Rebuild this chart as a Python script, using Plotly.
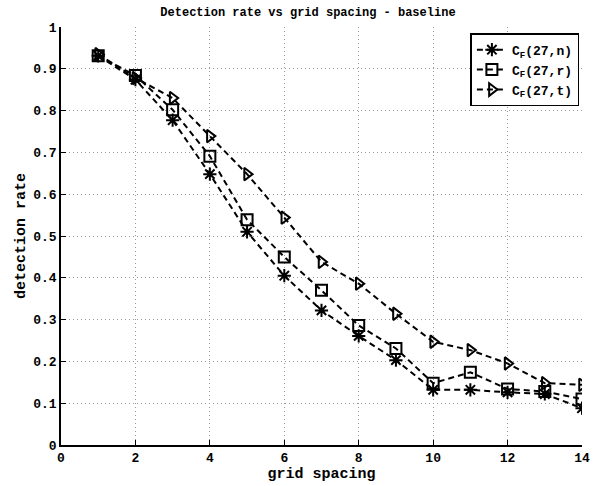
import plotly.graph_objects as go

x = list(range(1, 15))
cf_n = [0.931, 0.874, 0.777, 0.648, 0.51, 0.405, 0.322, 0.261, 0.203, 0.132, 0.132, 0.126, 0.122, 0.088]
cf_r = [0.931, 0.884, 0.802, 0.691, 0.539, 0.45, 0.37, 0.286, 0.231, 0.148, 0.174, 0.134, 0.128, 0.11]
cf_t = [0.935, 0.878, 0.830, 0.739, 0.648, 0.544, 0.438, 0.386, 0.314, 0.247, 0.227, 0.195, 0.148, 0.144]
names = ["C<sub>F</sub>(27,n)", "C<sub>F</sub>(27,r)", "C<sub>F</sub>(27,t)"]
symbols = ["asterisk-open", "square-open", "triangle-right-open"]
xticks = [0, 2, 4, 6, 8, 10, 12, 14]
yticks = [0, 0.1, 0.2, 0.3, 0.4, 0.5, 0.6, 0.7, 0.8, 0.9, 1]
yticktext = ["0", "0.1", "0.2", "0.3", "0.4", "0.5", "0.6", "0.7", "0.8", "0.9", "1"]

font = "Liberation Mono, Courier New, monospace"
fig = go.Figure()
for ys, nm, sym in zip([cf_n, cf_r, cf_t], names, symbols):
    fig.add_trace(go.Scatter(
        x=x, y=ys, name=nm, mode="lines+markers",
        line=dict(color="black", width=2, dash="6px,4px"),
        marker=dict(symbol=sym, size=11, color="black",
                    line=dict(color="black", width=2)),
    ))

axis_common = dict(
    showgrid=True, gridcolor="#999", griddash="1px,3px", gridwidth=1,
    showline=True, linecolor="black", linewidth=1.5,
    ticks="inside", ticklen=5, tickcolor="black", tickwidth=1,
    zeroline=False, mirror=False,
    tickfont=dict(family=font, size=13, color="black", weight="bold"),
)
fig.update_layout(
    width=599, height=486,
    margin=dict(l=61, r=9, t=27, b=39),
    paper_bgcolor="white", plot_bgcolor="white",
    title=dict(text="<b>Detection rate vs grid spacing - baseline</b>",
               x=0.474, xref="paper", xanchor="center", y=0.985, yanchor="top",
               font=dict(family=font, size=12, color="black")),
    xaxis=dict(range=[0, 14], tickvals=xticks,
               title=dict(text="<b>grid spacing</b>", standoff=0,
                          font=dict(family=font, size=15, color="black")),
               **axis_common),
    yaxis=dict(range=[0, 1], tickvals=yticks, ticktext=yticktext,
               title=dict(text="<b>detection rate</b>", standoff=4,
                          font=dict(family=font, size=15, color="black")),
               **axis_common),
    legend=dict(x=0.995, y=0.985, xanchor="right", yanchor="top",
                bgcolor="white", bordercolor="black", borderwidth=1.5,
                font=dict(family=font, size=13, color="black", weight="bold"),
                tracegroupgap=0, itemwidth=30),
    showlegend=True,
)
fig.write_html("out.html")
